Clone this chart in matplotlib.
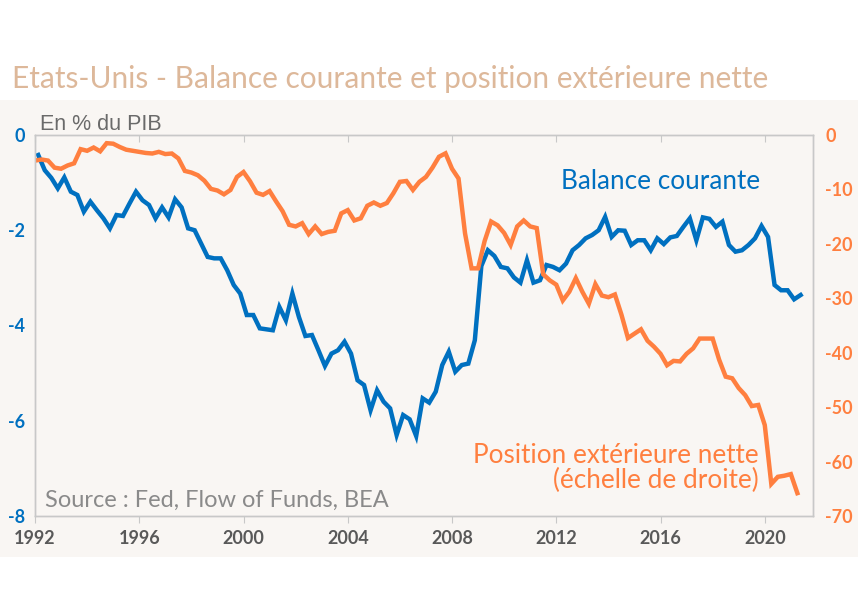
import numpy as np
import matplotlib
matplotlib.use("Agg")
import matplotlib.pyplot as plt
from matplotlib.patches import Rectangle

# ---- data (quarterly, 1992Q1 - 2021Q2) ----
start_year = 1992
balance_courante = [
    -0.42, -0.74, -0.90, -1.12, -0.89, -1.19, -1.26, -1.61, -1.40, -1.58,
    -1.75, -1.96, -1.68, -1.70, -1.44, -1.19, -1.37, -1.47, -1.75, -1.52,
    -1.73, -1.35, -1.52, -1.96, -2.00, -2.28, -2.56, -2.59, -2.59, -2.84,
    -3.15, -3.33, -3.78, -3.78, -4.06, -4.08, -4.10, -3.61, -3.89, -3.33,
    -3.82, -4.22, -4.20, -4.52, -4.85, -4.59, -4.52, -4.34, -4.59, -5.15,
    -5.25, -5.78, -5.36, -5.60, -5.74, -6.30, -5.88, -5.97, -6.32, -5.53,
    -5.62, -5.39, -4.83, -4.55, -4.97, -4.83, -4.80, -4.31, -2.75, -2.42,
    -2.54, -2.77, -2.80, -2.99, -3.10, -2.63, -3.10, -3.05, -2.73, -2.77,
    -2.84, -2.70, -2.42, -2.31, -2.17, -2.10, -2.00, -1.72, -2.14, -2.00,
    -2.01, -2.31, -2.21, -2.21, -2.42, -2.17, -2.29, -2.15, -2.12, -1.93,
    -1.75, -2.21, -1.73, -1.76, -1.93, -1.82, -2.31, -2.45, -2.42, -2.31,
    -2.17, -1.91, -2.14, -3.15, -3.26, -3.26, -3.45, -3.36,
]
position_exterieure = [
    -4.7, -4.5, -4.7, -6.0, -6.2, -5.6, -5.2, -2.6, -2.9, -2.3,
    -3.0, -1.5, -1.6, -2.2, -2.7, -2.9, -3.1, -3.3, -3.4, -3.1,
    -3.5, -3.4, -4.3, -6.6, -6.9, -7.4, -8.4, -9.9, -10.2, -10.9,
    -10.1, -7.7, -6.8, -8.5, -10.6, -11.0, -10.3, -12.2, -14.0, -16.5,
    -16.8, -16.2, -18.2, -16.8, -18.2, -17.8, -17.6, -14.4, -13.8, -15.7,
    -15.3, -13.0, -12.4, -13.0, -12.5, -10.7, -8.6, -8.45, -10.1, -8.6,
    -7.7, -6.0, -4.0, -3.37, -6.2, -8.0, -18.1, -24.5, -24.5, -19.5,
    -15.9, -16.6, -18.0, -20.2, -16.8, -15.7, -16.8, -17.1, -25.6, -26.7,
    -27.5, -30.4, -28.8, -26.3, -28.8, -31.0, -27.4, -29.5, -29.8, -29.3,
    -33.0, -37.3, -36.5, -35.7, -37.8, -38.9, -40.2, -42.3, -41.5, -41.6,
    -40.2, -39.2, -37.4, -37.4, -37.4, -41.3, -44.4, -44.7, -46.5, -47.8,
    -49.8, -49.6, -53.3, -64.1, -62.8, -62.6, -62.3, -65.8,
]
x_ticks = [1992, 1996, 2000, 2004, 2008, 2012, 2016, 2020]
left_ticks = [0, -2, -4, -6, -8]
right_ticks = [0, -10, -20, -30, -40, -50, -60, -70]

title = "Etats-Unis - Balance courante et position extérieure nette"
unit_label = "En % du PIB"
source = "Source : Fed, Flow of Funds, BEA"
label_bc = "Balance courante"
label_pen = "Position extérieure nette\n(échelle de droite)"

# ---- styling ----
BLUE = "#0070C0"
ORANGE = "#FF7F3F"
BEIGE = "#F9F6F3"
TITLE_C = "#DDB89A"
GRID_C = "#C8C8C8"
FONT = ["Lato", "DejaVu Sans"]

q_bc = start_year + np.arange(len(balance_courante)) / 4 + 0.125
q_pen = start_year + np.arange(len(position_exterieure)) / 4

fig = plt.figure(figsize=(8.58, 6.0), dpi=100, facecolor="white")
fig.patches.append(Rectangle((0, 43 / 600), 1, (557 - 100) / 600,
                             transform=fig.transFigure, facecolor=BEIGE,
                             edgecolor="none", zorder=-10))

ax = fig.add_axes([35 / 858, 1 - 516 / 600, (813 - 35) / 858, (516 - 135) / 600])
ax.set_facecolor(BEIGE)
ax2 = ax.twinx()

ax.plot(q_bc, balance_courante, color=BLUE, lw=3.2, solid_joinstyle="miter", zorder=3)
ax2.plot(q_pen, position_exterieure, color=ORANGE, lw=3.2, solid_joinstyle="miter", zorder=2)

ax.set_xlim(1992, 2021.85)
ax.set_ylim(-8, 0)
ax2.set_ylim(-70, 0)

ax.set_xticks(x_ticks)
ax.set_xticklabels([str(t) for t in x_ticks], fontfamily=FONT, fontweight="bold",
                   fontsize=13, color="#595959")
ax.tick_params(axis="x", direction="out", length=5, color=GRID_C, pad=5)
sec = ax.secondary_xaxis("top")
sec.set_xticks(x_ticks)
sec.tick_params(axis="x", direction="in", length=5, color=GRID_C, labeltop=False)
sec.spines["top"].set_visible(False)

ax.set_yticks(left_ticks)
ax.set_yticklabels([str(t) for t in left_ticks], fontfamily=FONT, fontweight="bold",
                   fontsize=13, color=BLUE)
ax.tick_params(axis="y", length=0, pad=7)
ax2.set_yticks(right_ticks)
ax2.set_yticklabels([str(t) for t in right_ticks], fontfamily=FONT, fontweight="bold",
                    fontsize=13, color=ORANGE)
ax2.tick_params(axis="y", length=0, pad=9)

for a in (ax, ax2):
    for s in a.spines.values():
        s.set_color(GRID_C)
        s.set_linewidth(1.0)

fig.text(12 / 858, 1 - 79 / 600, title, fontfamily=FONT, fontsize=21.5,
         color=TITLE_C, ha="left", va="center")
ax.text(5 / 778, 1.0, unit_label, transform=ax.transAxes, fontfamily=["Liberation Sans", "DejaVu Sans"],
        fontsize=15.5, color="#6A6A6A", ha="left", va="bottom")
ax.text(0.676, 0.877, label_bc, transform=ax.transAxes, fontfamily=FONT,
        fontsize=18.8, color=BLUE, ha="left", va="center")
ax.text(0.93, 0.125, label_pen, transform=ax.transAxes, fontfamily=FONT,
        fontsize=18.8, color=ORANGE, ha="right", va="center", multialignment="right",
        linespacing=1.0)
ax.text(10 / 778, 0.042, source, transform=ax.transAxes, fontfamily=FONT,
        fontsize=17, color="#8A8A8A", ha="left", va="center")

fig.savefig("out.png", dpi=100, facecolor="white")
